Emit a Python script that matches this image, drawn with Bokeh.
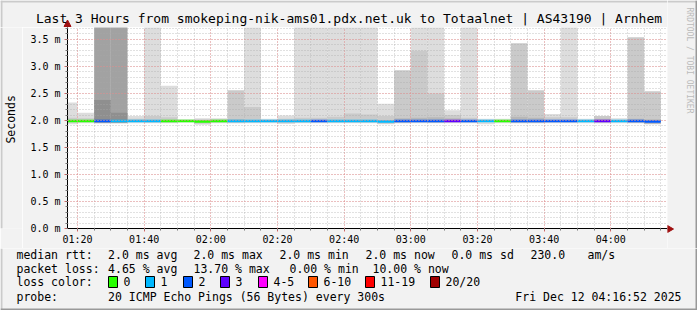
import math
from bokeh.plotting import figure
from bokeh.layouts import column, row
from bokeh.models import FixedTicker, Range1d
from bokeh.core.properties import value
from bokeh.embed import file_html
from bokeh.resources import INLINE

W, H = 697, 310
BG = "#f2f2f2"
MONO = "DejaVu Sans Mono"

# ---------------- data ----------------
bin_end = ["01:20", "01:25", "01:30", "01:35", "01:40", "01:45", "01:50", "01:55",
           "02:00", "02:05", "02:10", "02:15", "02:20", "02:25", "02:30", "02:35",
           "02:40", "02:45", "02:50", "02:55", "03:00", "03:05", "03:10", "03:15",
           "03:20", "03:25", "03:30", "03:35", "03:40", "03:45", "03:50", "03:55",
           "04:00", "04:05", "04:10", "04:15"]
loss_count = [0, 0, 2, 1, 1, 1, 0, 0, 0, 0, 1, 1, 1, 1, 1, 2, 1, 1, 1, 1,
              2, 2, 2, 3, 2, 1, 0, 2, 2, 2, 2, 1, 3, 1, 2, 2]
median_ms = [1.99, 1.99, 1.99, 1.99, 1.99, 1.99, 1.99, 1.99, 1.98, 1.99, 1.99, 1.99,
             1.99, 1.99, 1.99, 1.99, 1.99, 1.99, 1.99, 1.98, 1.99, 1.99, 1.99, 1.99,
             1.99, 1.99, 1.99, 1.99, 1.99, 1.99, 1.99, 1.99, 1.99, 1.99, 1.99, 1.98]
N = None
# smoke bands (outer -> inner), values in ms; 4.5 = beyond the axis top
band1_lo = [1.93, 1.95, N, N, 1.95, 1.95, 1.95, 1.96, 1.92, 1.95, N, 1.95, 1.95, 1.94, 1.95, 1.95,
            1.95, 1.95, 1.95, 1.93, N, 1.95, 1.95, 1.95, 1.95, 1.93, 1.95, N, N, 1.95, 1.95, 1.95,
            N, 1.95, N, N]
band1_hi = [2.33, 2.14, N, N, 2.08, 4.5, 2.64, 2.02, 2.04, 2.04, N, 4.5, 2.03, 2.09, 4.5, 4.5,
            4.5, 4.5, 4.5, 2.31, N, 4.5, 4.5, 2.19, 4.5, 2.03, 2.03, N, N, 2.12, 4.5, 2.03,
            N, 2.04, N, N]
band2_lo = [1.96, 1.97, N, N, 1.97, 1.96, 1.96, N, 1.94, 1.96, 1.95, 1.96, N, 1.95, 1.96, 1.96,
            1.96, 1.96, 1.96, 1.94, 1.95, 1.96, 1.96, 1.96, 1.96, N, N, 1.95, 1.95, 1.96, 1.96, N,
            1.95, N, 1.95, 1.93]
band2_hi = [2.05, 2.04, N, N, 2.03, 2.08, 2.06, N, 2.02, 2.02, 2.56, 2.25, N, 2.03, 2.05, 2.05,
            2.07, 2.13, 2.11, 2.08, 2.93, 3.29, 2.50, 2.10, 2.05, N, N, 3.43, 2.56, 2.06, 2.06, N,
            2.08, N, 3.54, 2.54]
band3_lo = [N, N, N, N, N, N, N, N, N, N, 1.97, N, N, N, N, N,
            N, N, N, N, 1.96, 1.97, 1.96, 1.97, N, N, N, 1.96, 1.96, N, N, N,
            1.97, N, 1.96, 1.94]
band3_hi = [N, N, N, N, N, N, N, N, N, N, 2.02, N, N, N, N, N,
            N, N, N, N, 2.04, 2.05, 2.06, 2.04, N, N, N, 2.07, 2.05, N, N, N,
            2.03, N, 2.03, 2.02]
band4_lo = [N, N, 1.95, 1.95] + [N] * 32
band4_hi = [N, N, 4.5, 4.5] + [N] * 32
band5_lo = [N, N, 1.97, 1.97] + [N] * 32
band5_hi = [N, N, 2.38, 2.14] + [N] * 32

x_tick_labels = ["01:20", "01:40", "02:00", "02:20", "02:40", "03:00", "03:20", "03:40", "04:00"]
y_tick_values = [0.0, 0.5, 1.0, 1.5, 2.0, 2.5, 3.0, 3.5]
y_tick_labels = ["0.0 m", "0.5 m", "1.0 m", "1.5 m", "2.0 m", "2.5 m", "3.0 m", "3.5 m"]

title_text = "Last 3 Hours from smokeping-nik-ams01.pdx.net.uk to Totaalnet | AS43190 | Arnhem"
rtt_items = ["median rtt:", "2.0 ms avg", "2.0 ms max", "2.0 ms min", "2.0 ms now", "0.0 ms sd", "230.0", "am/s"]
loss_items = ["packet loss:", "4.65 % avg", "13.70 % max", "0.00 % min", "10.00 % now"]
loss_legend_labels = ["0", "1", "2", "3", "4-5", "6-10", "11-19", "20/20"]
loss_legend_colors = ["#26ff00", "#00b8ff", "#0059ff", "#5e00ff", "#ff00ff", "#ff5500", "#ff0000", "#a00000"]
probe_text = "20 ICMP Echo Pings (56 Bytes) every 300s"
date_text = "Fri Dec 12 04:16:52 2025"

# ---------------- layout geometry (canvas pixels) ----------------
FL, FR, FT, FB = 67, 667, 27, 228      # plot frame
SPLIT_X_LEFT = 22                       # left strip ("Seconds")
SPLIT_Y = 248                           # legend starts here

def to_min(s):
    h, m = s.split(":")
    return int(h) * 60 + int(m)

STEP = 5
ends = [to_min(t) for t in bin_end]
starts = [e - STEP for e in ends]


def canvas_fig(x0, x1, y0, y1):
    f = figure(width=x1 - x0, height=y1 - y0, x_range=Range1d(x0, x1), y_range=Range1d(y1, y0),
               output_backend="svg", toolbar_location=None, x_axis_type=None, y_axis_type=None,
               min_border=0, title=None, background_fill_color=BG, border_fill_color=BG)
    f.outline_line_color = None
    return f


def txt(f, t, x, y, size="11.5px", align="left", angle=0.0, color="#000000"):
    f.text(x=[x], y=[y], text=[t], text_font=value(MONO), text_font_size=size, text_align=align,
           text_baseline="middle", angle=angle, text_color=color)


def rect(f, l, r, t, b, fill, line=None):
    f.quad(left=[l], right=[r], top=[t], bottom=[b], fill_color=fill,
           line_color=line, line_width=1)

# ---------------- main plot ----------------
p = figure(width=FR - SPLIT_X_LEFT, height=SPLIT_Y - FT, output_backend="svg", toolbar_location=None,
           x_range=Range1d(to_min("01:17"), to_min("04:17")), y_range=Range1d(0, 3.72),
           min_border_left=FL - SPLIT_X_LEFT, min_border_right=0, min_border_top=0,
           min_border_bottom=SPLIT_Y - FB,
           background_fill_color="white", border_fill_color=BG, title=None)
p.outline_line_color = None

band_colors = ["#dddddd", "#cacaca", "#b7b7b7", "#a2a2a2", "#8f8f8f"]
bands = [(band1_lo, band1_hi), (band2_lo, band2_hi), (band3_lo, band3_hi),
         (band4_lo, band4_hi), (band5_lo, band5_hi)]
for (lo, hi), col in zip(bands, band_colors):
    idx = [i for i in range(len(ends)) if lo[i] is not None]
    if not idx:
        continue
    p.quad(left=[starts[i] for i in idx], right=[ends[i] for i in idx],
           bottom=[lo[i] for i in idx], top=[hi[i] for i in idx],
           fill_color=col, line_color=None)

p.segment(x0=starts, x1=ends, y0=median_ms, y1=median_ms,
          line_color=[loss_legend_colors[c] for c in loss_count], line_width=2.5, line_cap="butt")

xt = [to_min(t) for t in x_tick_labels]
x_minor = list(range(to_min("01:20"), to_min("04:17"), 5))
y_minor = [round(i * 0.1, 1) for i in range(0, 38)]
p.xaxis.ticker = FixedTicker(ticks=xt, minor_ticks=x_minor)
p.xaxis.major_label_overrides = {v: l for v, l in zip(xt, x_tick_labels)}
p.yaxis.ticker = FixedTicker(ticks=y_tick_values, minor_ticks=y_minor)
p.yaxis.major_label_overrides = {v: l for v, l in zip(y_tick_values, y_tick_labels)}
for ax in (p.xaxis, p.yaxis):
    ax.major_label_text_font = MONO
    ax.major_label_text_font_size = "10px"
    ax.major_label_text_color = "#000000"
    ax.axis_line_color = "#000000"
    ax.major_tick_line_color = "#ff6060"
    ax.minor_tick_line_color = "#777777"
    ax.major_tick_in = 0
    ax.minor_tick_in = 0
    ax.major_tick_out = 3
    ax.minor_tick_out = 2
p.xaxis.major_label_standoff = 2
p.yaxis.major_label_standoff = 4

for g in (p.xgrid, p.ygrid):
    g.level = "overlay"
    g.grid_line_color = "#ff8080"
    g.grid_line_alpha = 0.7
    g.grid_line_dash = "1 2"
    g.minor_grid_line_color = "#a8a8a8"
    g.minor_grid_line_alpha = 0.7
    g.minor_grid_line_dash = "1 2"
p.xgrid.ticker = p.xaxis.ticker
p.ygrid.ticker = p.yaxis.ticker

# ---------------- surrounding strips ----------------
ARROW = "#a01010"

top = canvas_fig(0, FR, 0, FT)
rect(top, 0, FR, 0, 2, "#cbcbcb")
rect(top, 0, 2, 0, FT, "#cbcbcb")
top.segment(x0=[FL], x1=[FL], y0=[FT], y1=[22], line_color="#000000", line_width=1)
top.patch(x=[FL - 3.5, FL + 3.5, FL], y=[26, 26, 19.5], fill_color=ARROW, line_color=ARROW)
txt(top, title_text, W / 2, 18, size="13px", align="center")

left = canvas_fig(0, SPLIT_X_LEFT, FT, SPLIT_Y)
rect(left, 0, 2, FT, SPLIT_Y, "#cbcbcb")
txt(left, "Seconds", 10, 128, angle=math.pi / 2, align="center")

right = canvas_fig(FR, W, 0, SPLIT_Y)
rect(right, FR, W, 0, 2, "#cbcbcb")
rect(right, W - 2, W, 0, SPLIT_Y, "#999999")
right.segment(x0=[FR], x1=[669], y0=[FB + 0.5], y1=[FB + 0.5], line_color="#000000", line_width=1)
right.patch(x=[FR, FR, 673], y=[FB - 3, FB + 4, FB + 0.5], fill_color=ARROW, line_color=ARROW)
txt(right, "RRDTOOL / TOBI OETIKER", 689, 60, size="8px", align="center", angle=-math.pi / 2, color="#bbbbbb")

leg = canvas_fig(0, W, SPLIT_Y, H)
rect(leg, 0, 2, SPLIT_Y, H, "#cbcbcb")
rect(leg, 0, W, H - 2, H, "#999999")
rect(leg, W - 2, W, SPLIT_Y, H, "#999999")
rtt_x = [16, 107.6, 193, 279, 365, 451, 530, 587]
for t, x in zip(rtt_items, rtt_x):
    txt(leg, t, x, 254)
loss_x = [16, 107.6, 193, 289, 372]
for t, x in zip(loss_items, loss_x):
    txt(leg, t, x, 268)
txt(leg, "loss color:", 16, 281)
box_x = [108, 145, 183, 220, 258, 308, 365, 430]
for t, c, bx in zip(loss_legend_labels, loss_legend_colors, box_x):
    rect(leg, bx, bx + 9, 276, 287, c, "#000000")
    txt(leg, t, bx + 15, 281)
txt(leg, "probe:", 16, 296)
txt(leg, probe_text, 107.6, 296)
txt(leg, date_text, 681, 296, align="right")

layout = column(row(column(top, row(left, p)), right), leg)
open("out.html", "w").write(file_html(layout, INLINE))
